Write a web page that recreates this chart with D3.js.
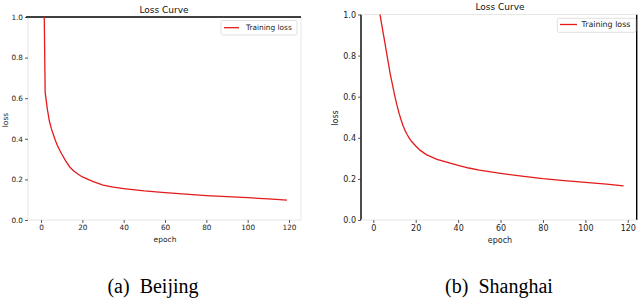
<!DOCTYPE html>
<html><head><meta charset="utf-8">
<script src="https://cdn.jsdelivr.net/npm/d3@7"></script>
<style>body{margin:0;background:#fff}svg{display:block}</style>
</head><body>
<svg id="c" width="640" height="300"></svg>
<script>
// ---- data ----
const beijingEpochs = [1,2,3,4,5,6,7,8,9,10,12,14,16,18,20,25,30,35,40,50,60,70,80,90,100,110,119];
const beijingLoss   = [1.5,0.63,0.55,0.49,0.45,0.42,0.39,0.365,0.345,0.325,0.29,0.26,0.24,0.225,0.212,0.19,0.172,0.162,0.155,0.143,0.135,0.127,0.12,0.115,0.11,0.104,0.098];
const shanghaiEpochs = [1,2,3,4,5,6,7,8,9,10,11,12,13,14,15,16,17,18,20,22,25,30,35,40,45,50,60,70,80,90,100,110,118];
const shanghaiLoss   = [1.15,1.08,1.01,0.95,0.89,0.83,0.77,0.71,0.66,0.61,0.565,0.525,0.49,0.46,0.435,0.415,0.397,0.383,0.36,0.34,0.318,0.295,0.28,0.266,0.253,0.243,0.227,0.213,0.201,0.192,0.183,0.175,0.166];
const xTicks = [0,20,40,60,80,100,120];
const yTicks = [0.0,0.2,0.4,0.6,0.8,1.0];
const titleText = "Loss Curve";
const legendText = "Training loss";
const xLabel = "epoch", yLabel = "loss";
const captions = ["(a)  Beijing", "(b)  Shanghai"];

const svg = d3.select("#c");
const FONT = "DejaVu Sans";

function panel(o){
  const x = d3.scaleLinear().domain(o.xDomain).range([o.left, o.right]);
  const y = d3.scaleLinear().domain([0,1]).range([o.bottom, o.top]);
  const g = svg.append("g");
  const id = "clip"+o.id;
  svg.append("clipPath").attr("id", id).append("rect")
    .attr("x", o.left).attr("y", o.top).attr("width", o.right-o.left).attr("height", o.bottom-o.top);
  // spines
  const sp = [
    ["left", o.left, o.top, o.left, o.bottom],
    ["right", o.right, o.top, o.right, o.bottom],
    ["top", o.topX0 ?? o.left, o.top, o.right, o.top],
    ["bottom", o.left, o.bottom, o.right, o.bottom]
  ];
  sp.forEach(s=>{
    const dark = o.dark.includes(s[0]);
    g.append("line").attr("x1",s[1]).attr("y1",s[2]).attr("x2",s[3]).attr("y2",s[4])
      .attr("stroke", dark ? "#000" : "#e6e6e6").attr("stroke-width", dark ? 1.4 : 1);
  });
  // axes
  const xa = g.append("g").attr("transform",`translate(0,${o.bottom})`)
    .call(d3.axisBottom(x).tickValues(xTicks).tickFormat(d3.format("d")).tickSize(3).tickPadding(2));
  const ya = g.append("g").attr("transform",`translate(${o.left},0)`)
    .call(d3.axisLeft(y).tickValues(yTicks).tickFormat(d3.format(".1f")).tickSize(3).tickPadding(2));
  [xa,ya].forEach(a=>{
    a.select(".domain").remove();
    a.selectAll("line").attr("stroke","#333").attr("stroke-width",0.8);
    a.selectAll("text").attr("font-family",FONT).attr("font-size",o.tickFs).attr("fill","#222");
  });
  // line
  const line = d3.line().x((d,i)=>x(o.ex[i])).y(d=>y(d));
  g.append("path").datum(o.loss).attr("d", line).attr("fill","none")
    .attr("stroke","#e41a1c").attr("stroke-width",1.3).attr("clip-path",`url(#${id})`);
  // title & labels
  g.append("text").attr("x",o.titleX).attr("y",o.titleY).attr("text-anchor","middle")
    .attr("font-family",FONT).attr("font-size",9).attr("fill","#111").text(titleText);
  g.append("text").attr("x",o.xlabX).attr("y",o.xlabY).attr("text-anchor","middle")
    .attr("font-family",FONT).attr("font-size",o.labFs).attr("fill","#222").text(xLabel);
  g.append("text").attr("transform",`translate(${o.ylabX},${o.ylabY}) rotate(-90)`).attr("text-anchor","middle")
    .attr("font-family",FONT).attr("font-size",o.labFs).attr("fill","#222").text(yLabel);
  // legend
  const L = o.legend;
  g.append("rect").attr("x",L.x).attr("y",L.y).attr("width",L.w).attr("height",L.h).attr("rx",1.5)
    .attr("fill","#fff").attr("stroke","#d8d8d8").attr("stroke-width",0.8);
  g.append("line").attr("x1",L.lx0).attr("x2",L.lx1).attr("y1",L.ly).attr("y2",L.ly)
    .attr("stroke","#e41a1c").attr("stroke-width",1.3);
  g.append("text").attr("x",L.tx).attr("y",L.ly).attr("dy","0.35em")
    .attr("font-family",FONT).attr("font-size",L.fs).attr("fill","#222").text(legendText);
  // caption
  svg.append("text").attr("x",o.capX).attr("y",293).attr("text-anchor","middle")
    .attr("font-family","Liberation Serif").attr("font-size",20).attr("fill","#000")
    .attr("xml:space","preserve").style("white-space","pre").text(o.caption);
}

panel({id:"a", ex:beijingEpochs, loss:beijingLoss, xDomain:[-6.3,125.8],
  left:28, right:301, top:17, bottom:220, topX0:26, dark:["top"], tickFs:7.3, labFs:7.5,
  titleX:164, titleY:12.5, xlabX:165, xlabY:242, ylabX:8, ylabY:120,
  legend:{x:221,y:20.5,w:76,h:14.5,lx0:224,lx1:239,ly:27.7,tx:246,fs:7.4},
  capX:153, caption:captions[0]});
panel({id:"b", ex:shanghaiEpochs, loss:shanghaiLoss, xDomain:[-5.8,124.2],
  left:361, right:636.7, top:14.5, bottom:220, dark:["left","right"], tickFs:8, labFs:8,
  titleX:500, titleY:9.5, xlabX:500, xlabY:243, ylabX:338, ylabY:118,
  legend:{x:557.3,y:18.3,w:78.5,h:14,lx0:560,lx1:577,ly:24.5,tx:581.5,fs:7.9},
  capX:499, caption:captions[1]});
</script>
</body></html>
